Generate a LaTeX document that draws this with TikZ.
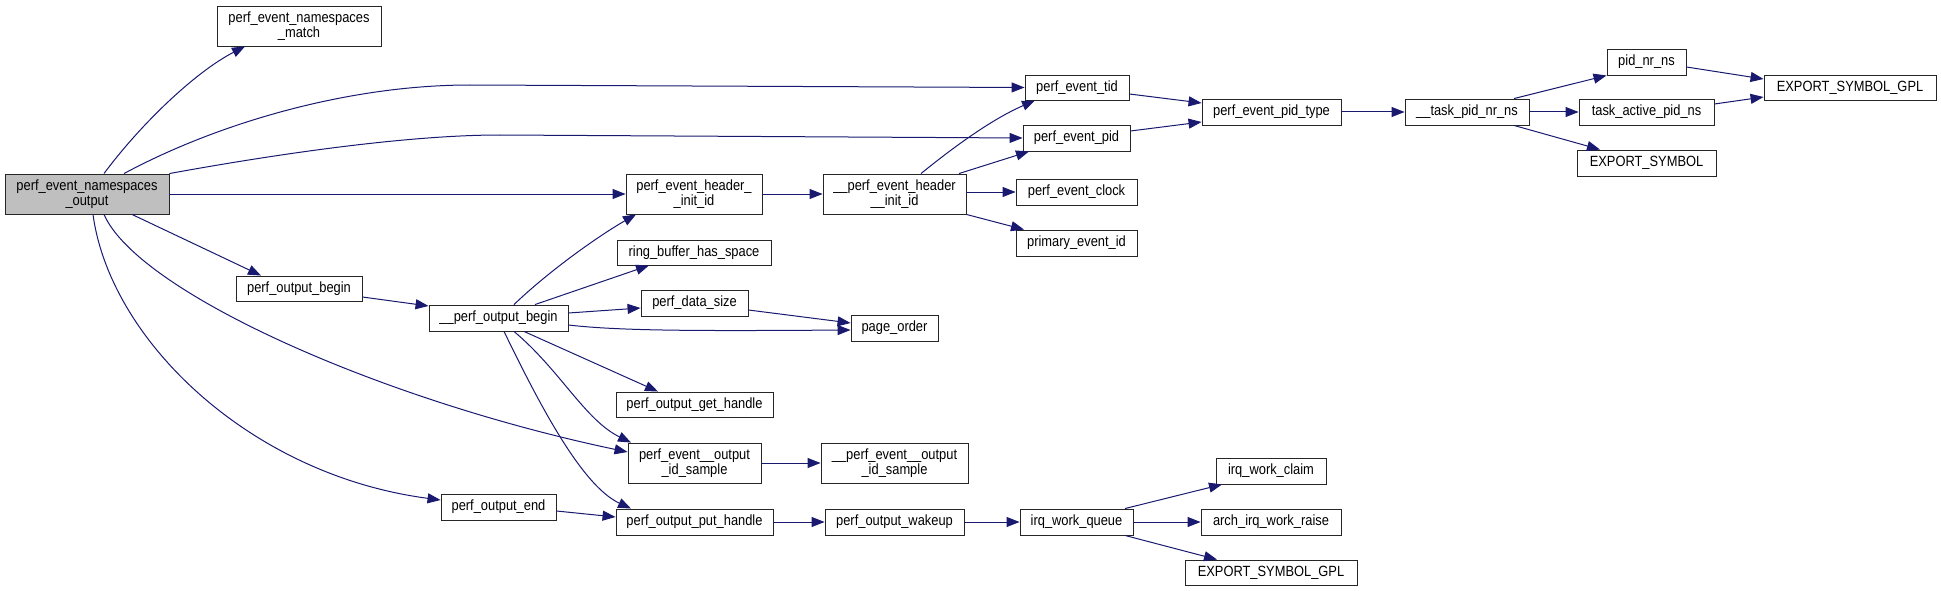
\documentclass[tikz,border=0pt]{standalone}
\usepackage{fontspec}
\setmainfont{Liberation Sans}[FakeStretch=0.87]
\usetikzlibrary{arrows.meta}
\definecolor{edgec}{RGB}{25,25,112}
\definecolor{rootfill}{RGB}{191,191,191}
\tikzset{
  nb/.style={draw=black!85, line width=0.9pt, fill=white, inner sep=0pt, align=center,
             font=\fontsize{14.8}{15}\selectfont},
  e/.style={draw=edgec, line width=1pt, -{Triangle[length=13pt,width=10pt]}, edgec}
}
\newcommand{\mkbox}[6]{\node[nb,minimum width=#4pt,minimum height=#5pt] (#1) at (#2,#3) {#6};}
\begin{document}
\begin{tikzpicture}[x=1pt,y=-1pt]
\useasboundingbox (0,0) rectangle (1941,591);
% nodes
\node[nb,fill=rootfill,minimum width=164pt,minimum height=40pt] (A) at (87,194) {perf\_event\_namespaces\\\_output};
\mkbox{match}{299}{26}{164}{40}{perf\_event\_namespaces\\\_match}
\mkbox{pob}{299}{288.5}{126}{25}{perf\_output\_begin}
\mkbox{B}{498.5}{318}{139}{26}{\_\_perf\_output\_begin}
\mkbox{poe}{498.5}{507}{115}{26}{perf\_output\_end}
\mkbox{pehi}{694}{194}{136}{40}{perf\_event\_header\_\\\_init\_id}
\mkbox{rb}{694}{252.5}{154}{25}{ring\_buffer\_has\_space}
\mkbox{pds}{694.5}{303}{107}{26}{perf\_data\_size}
\mkbox{pgh}{694.5}{404.5}{157}{25}{perf\_output\_get\_handle}
\mkbox{peos}{694.5}{463}{133}{40}{perf\_event\_\_output\\\_id\_sample}
\mkbox{poph}{694.5}{522}{157}{26}{perf\_output\_put\_handle}
\mkbox{C}{894.5}{194}{143}{40}{\_\_perf\_event\_header\\\_\_init\_id}
\mkbox{po}{894.5}{328}{87}{26}{page\_order}
\mkbox{ipeos}{894.5}{463}{147}{40}{\_\_perf\_event\_\_output\\\_id\_sample}
\mkbox{pow}{894.5}{522}{139}{26}{perf\_output\_wakeup}
\mkbox{tid}{1077}{87.5}{104}{25}{perf\_event\_tid}
\mkbox{pid}{1076.5}{138}{107}{26}{perf\_event\_pid}
\mkbox{clock}{1076.5}{192}{121}{26}{perf\_event\_clock}
\mkbox{prim}{1076.5}{243}{121}{26}{primary\_event\_id}
\mkbox{iwq}{1076.5}{522}{113}{26}{irq\_work\_queue}
\mkbox{pidtype}{1271.5}{112}{139}{26}{perf\_event\_pid\_type}
\mkbox{iwc}{1271}{471}{110}{26}{irq\_work\_claim}
\mkbox{air}{1271}{522}{140}{26}{arch\_irq\_work\_raise}
\mkbox{esg2}{1271}{572.5}{172}{25}{EXPORT\_SYMBOL\_GPL}
\mkbox{tpn}{1467}{112}{124}{26}{\_\_task\_pid\_nr\_ns}
\mkbox{pnn}{1646.5}{62}{79}{26}{pid\_nr\_ns}
\mkbox{tapn}{1646.5}{112}{135}{26}{task\_active\_pid\_ns}
\mkbox{es}{1646.5}{163}{139}{26}{EXPORT\_SYMBOL}
\mkbox{esg1}{1850}{87.5}{172}{25}{EXPORT\_SYMBOL\_GPL}
% edges from root
\draw[e] (A.north -| 104,0) .. controls (140,125) and (195,72) .. (match.south -| 245,0);
\draw[e] (A.north -| 124,0) .. controls (220,122) and (350,85) .. (470,85) -- (tid.west);
\draw[e] (A.north east) .. controls (260,157) and (400,135) .. (500,135) -- (pid.west);
\draw[e] (A.east) -- (pehi.west);
\draw[e] (A.south -| 132,0) -- (pob.north -| 261,0);
\draw[e] (A.south -| 104,0) .. controls (138,292) and (380,400) .. (peos.west |- 0,452);
\draw[e] (A.south -| 93,0) .. controls (110,340) and (250,475) .. (poe.west |- 0,500);
% begin
\draw[e] (pob.east |- 0,297) -- (B.west |- 0,306);
\draw[e] (B.north -| 514,0) .. controls (550,270) and (600,235) .. (pehi.south -| 636,0);
\draw[e] (B.north -| 535,0) -- (rb.south -| 649,0);
\draw[e] (B.east |- 0,313) -- (pds.west |- 0,308);
\draw[e] (B.east |- 0,325) .. controls (620,331) and (700,331) .. (po.west |- 0,330);
\draw[e] (pds.east |- 0,310) -- (po.west |- 0,323);
\draw[e] (B.south -| 524,0) -- (pgh.north -| 658,0);
\draw[e] (B.south -| 514,0) .. controls (560,370) and (585,420) .. (peos.north -| 631,0);
\draw[e] (B.south -| 504,0) .. controls (535,395) and (580,485) .. (poph.north -| 631,0);
\draw[e] (poe.east |- 0,511) -- (poph.west |- 0,517);
% header
\draw[e] (pehi.east) -- (C.west);
\draw[e] (C.north -| 921,0) .. controls (950,150) and (990,120) .. (tid.south -| 1035,0);
\draw[e] (C.north -| 959,0) -- (pid.south -| 1029,0);
\draw[e] (C.east |- 0,192) -- (clock.west);
\draw[e] (C.south east) -- (prim.north -| 1024,0);
\draw[e] (tid.east |- 0,94) -- (pidtype.west |- 0,103);
\draw[e] (pid.east |- 0,131) -- (pidtype.west |- 0,122);
\draw[e] (pidtype.east) -- (tpn.west);
\draw[e] (tpn.north -| 1514,0) -- (pnn.south west);
\draw[e] (tpn.east) -- (tapn.west);
\draw[e] (tpn.south -| 1514,0) -- (es.north -| 1600,0);
\draw[e] (pnn.east |- 0,67) -- (esg1.west |- 0,79);
\draw[e] (tapn.east |- 0,104) -- (esg1.west |- 0,97);
% output
\draw[e] (peos.east) -- (ipeos.west);
\draw[e] (poph.east) -- (pow.west);
\draw[e] (pow.east) -- (iwq.west);
\draw[e] (iwq.north -| 1125,0) -- (iwc.south -| 1222,0);
\draw[e] (iwq.east) -- (air.west);
\draw[e] (iwq.south -| 1125,0) -- (esg2.north -| 1217,0);
\end{tikzpicture}
\end{document}
